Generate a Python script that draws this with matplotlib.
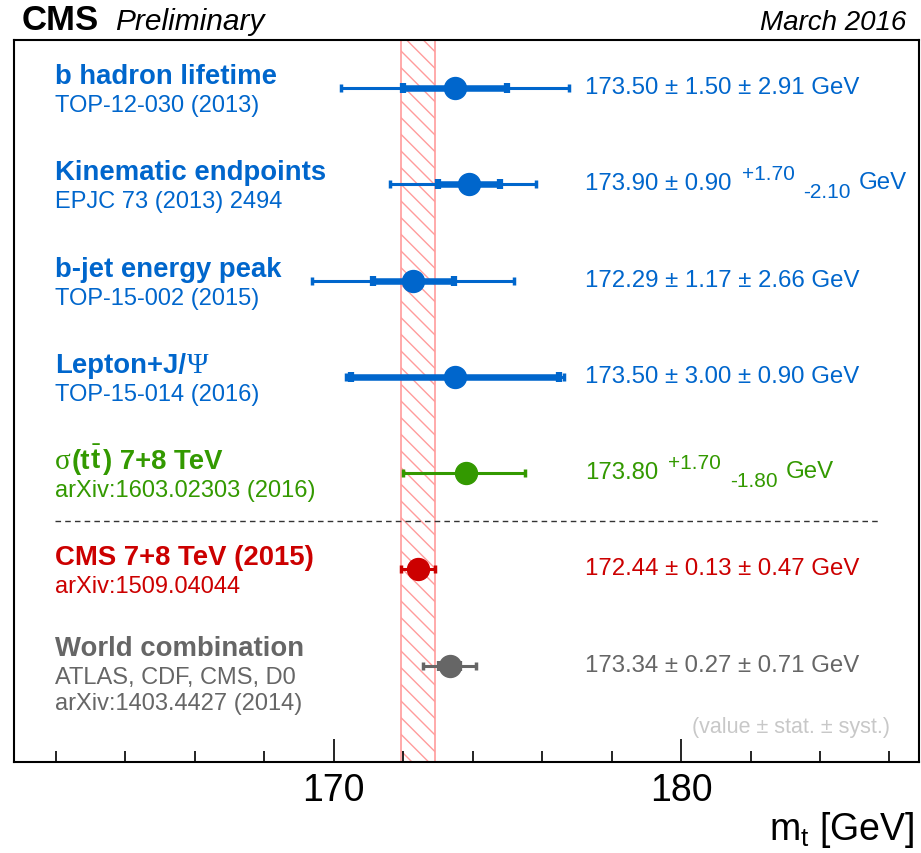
import numpy as np
import matplotlib
matplotlib.use('Agg')
import matplotlib.pyplot as plt
from matplotlib.ticker import MultipleLocator

plt.rcParams['font.family'] = ['Liberation Sans', 'DejaVu Sans']
plt.rcParams['mathtext.fontset'] = 'custom'
plt.rcParams['mathtext.rm'] = 'Liberation Sans'
plt.rcParams['mathtext.it'] = 'Liberation Sans:italic'
plt.rcParams['mathtext.bf'] = 'Liberation Sans:bold'
plt.rcParams['hatch.linewidth'] = 1.0

# measurements, top to bottom
titles = ["b hadron lifetime", "Kinematic endpoints", "b-jet energy peak",
          "Lepton+J/\u03a8", "\u03c3(tt) 7+8 TeV", "CMS 7+8 TeV (2015)",
          "World combination"]
refs = [["TOP-12-030 (2013)"], ["EPJC 73 (2013) 2494"], ["TOP-15-002 (2015)"],
        ["TOP-15-014 (2016)"], ["arXiv:1603.02303 (2016)"], ["arXiv:1509.04044"],
        ["ATLAS, CDF, CMS, D0", "arXiv:1403.4427 (2014)"]]
mt = np.array([173.50, 173.90, 172.29, 173.50, 173.80, 172.44, 173.34])
stat = np.array([1.50, 0.90, 1.17, 3.00, 0.00, 0.13, 0.27])
syst_up = np.array([2.91, 1.70, 2.66, 0.90, 1.70, 0.47, 0.71])
syst_dn = np.array([2.91, 2.10, 2.66, 0.90, 1.80, 0.47, 0.71])
colors = ['#0066cc'] * 4 + ['#339900', '#cc0000', '#666666']
comb = 5  # CMS combination shown as band

n = len(mt)
rows = np.arange(n, 0, -1)
tot_up = np.hypot(stat, syst_up)
tot_dn = np.hypot(stat, syst_dn)

fig = plt.figure(figsize=(9.21, 8.54), dpi=100)
ax = fig.add_axes([14 / 921, 91 / 854, 905 / 921, 722 / 854])
ax.set_xlim(160.8, 186.85)
ax.set_ylim(0, 7.5)

ax.axvspan(mt[comb] - tot_dn[comb], mt[comb] + tot_up[comb], facecolor='none',
           edgecolor='#ff9c9c', hatch='\\\\', lw=1.2, zorder=1)

for i in range(n):
    ax.errorbar(mt[i], rows[i], xerr=[[tot_dn[i]], [tot_up[i]]], fmt='none',
                ecolor=colors[i], elinewidth=2.2, capsize=2.8, capthick=2.5, zorder=3)
    if stat[i] > 0:
        ax.errorbar(mt[i], rows[i], xerr=stat[i], fmt='none', ecolor=colors[i],
                    elinewidth=4.7, capsize=3.5, capthick=4.5, zorder=4)
    ax.plot(mt[i], rows[i], 'o', ms=15.8, color=colors[i], mec=colors[i], zorder=5)

ax.plot([0.045, 0.955], [2.5, 2.5], transform=ax.get_yaxis_transform(),
        color='#333333', lw=1.0, dashes=(4, 3), zorder=2)

ax.xaxis.set_major_locator(MultipleLocator(10))
ax.xaxis.set_minor_locator(MultipleLocator(2))
ax.tick_params(axis='x', which='major', direction='in', length=16.5, width=1.2,
               labelsize=27, pad=7, top=False)
ax.tick_params(axis='x', which='minor', direction='in', length=8, width=1.2, top=False)
ax.set_yticks([])
for sp in ax.spines.values():
    sp.set_linewidth(1.5)

fig.canvas.draw()
renderer = fig.canvas.get_renderer()
ytr = ax.get_yaxis_transform()


def chain(x0, y, pieces, color):
    # pieces: (text, dy in pixels, gap after, extra text kwargs)
    dx = 0
    for s, dy, gap, kw in pieces:
        t = ax.annotate(s, (x0, y), xycoords=ytr, xytext=(dx, dy),
                        textcoords='offset pixels', va='baseline', ha='left',
                        color=color, **kw)
        dx += t.get_window_extent(renderer).width + gap


bold = dict(fontsize=19.8, fontweight='bold')
greek = dict(fontsize=21, family=['Liberation Serif', 'DejaVu Serif'])
sub = dict(fontsize=17)
val = dict(fontsize=17.3)
small = dict(fontsize=15)

for i in range(n):
    c = colors[i]
    top = 11 if len(refs[i]) > 1 else 5
    if titles[i].startswith("Lepton"):
        chain(0.045, rows[i], [("Lepton+J/", top, 1, bold), ("\u03a8", top, 0, greek)], c)
    elif titles[i].startswith("\u03c3"):
        chain(0.045, rows[i], [("\u03c3", top, 1, greek), ("(t", top, 0, bold),
                                (r"$\bar{\mathbf{t}}$", top, 1, bold),
                                (") 7+8 TeV", top, 0, bold)], c)
    else:
        chain(0.045, rows[i], [(titles[i], top, 0, bold)], c)
    for k, r in enumerate(refs[i]):
        chain(0.045, rows[i], [(r, top - 28 - 26.5 * k, 0, sub)], c)

    # value string
    if syst_up[i] == syst_dn[i]:
        chain(0.631, rows[i], [(f"{mt[i]:.2f} \u00b1 {stat[i]:.2f} \u00b1 {syst_up[i]:.2f} GeV",
                                -5, 0, val)], c)
    else:
        head = f"{mt[i]:.2f}" if stat[i] == 0 else f"{mt[i]:.2f} \u00b1 {stat[i]:.2f}"
        chain(0.631, rows[i], [(head, -5, 10, val),
                                (f"+{syst_up[i]:.2f}", 5, 9, small),
                                (f"-{syst_dn[i]:.2f}", -13, 8, small),
                                ("GeV", -4, 0, val)], c)

ax.text(0.968, 0.0416, "(value \u00b1 stat. \u00b1 syst.)", transform=ax.transAxes,
        ha='right', va='baseline', fontsize=15.5, color='#c8c8c8')

fig.text(22 / 921, 1 - 30 / 854, "CMS", fontsize=25, fontweight='bold', va='baseline')
fig.text(115 / 921, 1 - 30 / 854, "Preliminary", fontsize=21.5, style='italic', va='baseline')
fig.text(906 / 921, 1 - 30 / 854, "March 2016", fontsize=20, style='italic',
         va='baseline', ha='right')
fig.text(915 / 921, 1 - 840 / 854, r"m$_{\mathrm{t}}$ [GeV]", fontsize=27,
         ha='right', va='baseline')

fig.savefig('out.png', dpi=100)
